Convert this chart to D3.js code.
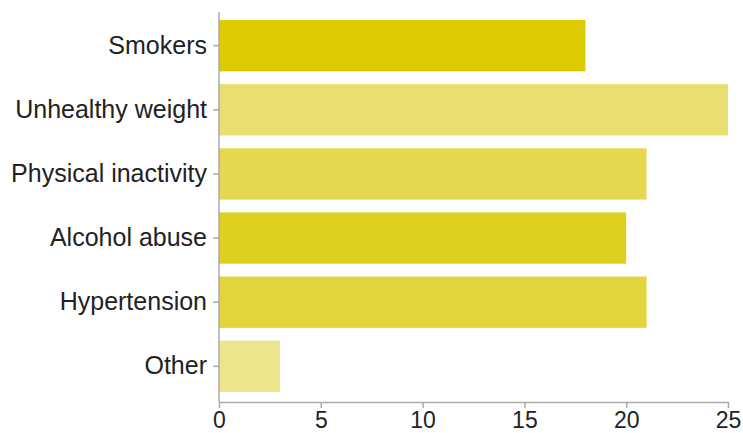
<!DOCTYPE html>
<html><head><meta charset="utf-8">
<script src="https://cdn.jsdelivr.net/npm/d3@7"></script>
<style>body{margin:0;background:#fff}svg{display:block}</style>
</head><body>
<svg id="c" width="743" height="433"></svg>
<script>
const categories = ["Smokers","Unhealthy weight","Physical inactivity","Alcohol abuse","Hypertension","Other"];
const values = [18, 25, 21, 20, 21, 3];
const colors = ["#dccb00","#e8df70","#e5d850","#dfd01f","#e2d43a","#ede58b"];
const xTicks = [0,5,10,15,20,25];

const W=743,H=433,m={top:12,right:15,bottom:31,left:219};
const svg=d3.select("#c");
const x=d3.scaleLinear().domain([0,25]).range([m.left,W-m.right]);
const y=d3.scaleBand().domain(categories).range([m.top,H-m.bottom-2]).paddingInner(0.2).paddingOuter(0.125);

svg.selectAll("rect.bar").data(categories).join("rect")
  .attr("class","bar")
  .attr("x",x(0)).attr("y",d=>y(d))
  .attr("width",(d,i)=>x(values[i])-x(0)).attr("height",y.bandwidth())
  .attr("fill",(d,i)=>colors[i]);

const font="'Liberation Sans', Arial, Helvetica, sans-serif";
const gx=svg.append("g").attr("transform",`translate(0,${H-m.bottom})`)
  .call(d3.axisBottom(x).tickValues(xTicks).tickSize(6).tickSizeOuter(0).tickPadding(4));
const gy=svg.append("g").attr("transform",`translate(${m.left},0)`)
  .call(d3.axisLeft(y).tickSize(6).tickSizeOuter(0).tickPadding(6));
gy.select("path.domain").attr("d",`M0,${m.top}V${H-m.bottom}`);
[gx,gy].forEach(g=>{
  g.selectAll("path.domain").attr("stroke","#aaa").attr("stroke-width",1.5);
  g.selectAll(".tick line").attr("stroke","#aaa").attr("stroke-width",1.5);
  g.selectAll("text").attr("fill","#222").style("font-family",font);
});
gx.selectAll("text").style("font-size","23px");
gy.selectAll("text").style("font-size","25px");
</script>
</body></html>
